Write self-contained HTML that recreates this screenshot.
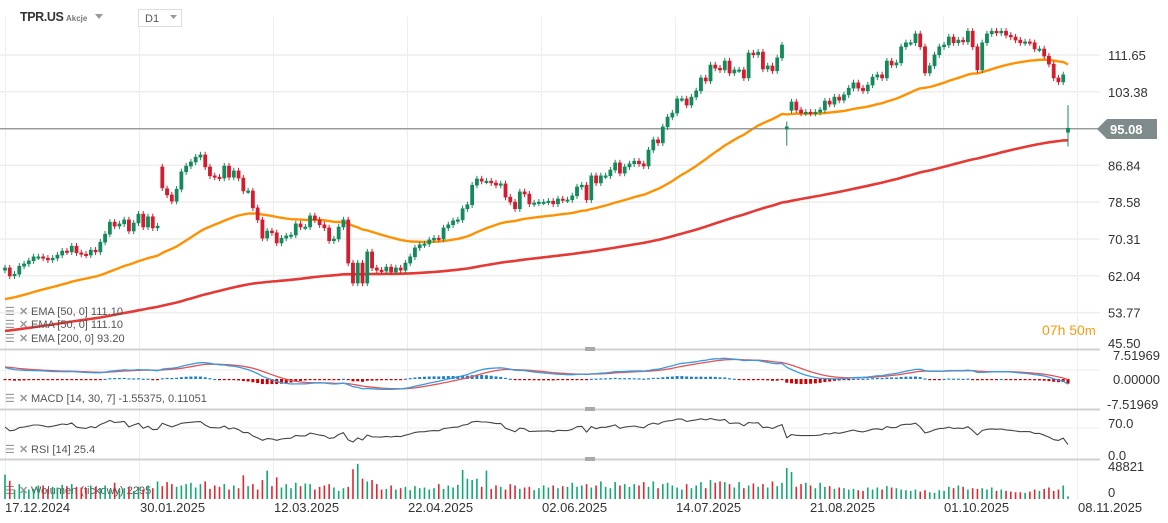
<!DOCTYPE html>
<html><head><meta charset="utf-8"><style>
html,body{margin:0;padding:0;background:#fff;width:1168px;height:523px;overflow:hidden;font-family:"Liberation Sans",sans-serif}
svg{display:block}
</style></head><body>
<svg id="chart" width="1168" height="523" viewBox="0 0 1168 523" xmlns="http://www.w3.org/2000/svg" font-family="Liberation Sans, sans-serif"></svg>
<script>
const closes=[63.8,62.0,62.4,64.2,64.7,65.4,66.3,66.3,66.0,65.6,66.0,66.7,67.6,67.4,68.7,67.2,66.9,66.7,67.8,67.4,69.6,71.4,74.1,73.2,73.7,74.6,72.1,73.9,75.9,73.0,75.3,72.8,73.2,81.8,80.2,78.8,81.5,85.4,86.7,87.6,88.7,89.2,86.5,84.5,84.2,84.0,86.7,84.2,85.6,84.0,81.1,81.1,77.3,74.6,70.5,72.1,71.7,69.4,
70.5,71.0,71.2,73.7,73.0,73.0,75.5,74.6,73.5,72.8,69.9,70.3,73.0,74.6,64.9,60.4,64.9,60.4,67.4,63.8,63.3,63.1,64.0,62.9,63.8,63.3,64.9,66.3,68.3,69.0,69.2,70.1,70.5,70.3,72.8,73.5,74.4,74.6,77.1,78.0,82.4,83.8,83.3,83.3,82.9,82.4,82.7,79.7,78.6,77.1,80.9,80.4,78.2,78.4,78.6,78.6,
78.8,78.2,79.3,79.1,79.1,80.0,82.0,82.4,79.1,84.5,82.9,84.5,84.5,85.8,87.4,85.1,86.5,87.2,87.8,87.2,86.7,90.3,92.6,91.9,95.5,97.7,98.6,101.8,101.8,100.4,102.2,103.6,106.5,105.8,109.4,108.7,108.3,110.3,107.6,108.3,108.3,106.5,112.1,111.7,112.3,108.5,109.2,108.1,111.0,113.9,
95.5,101.1,99.3,98.6,98.8,98.6,
98.8,99.3,101.3,100.6,102.2,101.5,102.7,104.2,105.4,104.2,103.6,104.9,106.7,107.2,106.5,110.3,109.4,109.9,113.5,114.4,114.4,116.4,113.5,107.6,109.2,111.7,113.5,113.9,115.7,114.4,115.0,114.6,117.0,113.5,108.3,114.4,116.4,117.0,116.6,117.0,116.1,115.7,115.0,114.4,114.6,114.4,113.0,113.0,111.4,109.6,106.5,105.6,107.2,95.2];
// opens that differ from previous close (gaps): [index, open]
const gapOpens=[[33,86.5],[34,81.6],[164,95.0],[165,99.2],[223,94.3]];
const volumes=[36,27,14,22,12,14,15,20,20,15,18,17,21,19,22,18,17,15,20,18,16,20,14,24,15,16,17,12,18,14,20,16,26,19,25,22,18,20,22,24,17,22,26,15,20,18,22,14,20,16,35,19,22,14,28,42,19,32,17,22,16,24,19,23,22,14,18,20,22,17,12,16,18,44,52,30,26,28,22,14,15,20,14,16,18,13,19,16,17,14,16,22,15,20,17,21,43,30,28,30,18,42,15,20,18,14,22,20,15,17,18,13,16,20,17,20,16,19,18,24,18,20,22,17,20,26,18,16,25,20,22,18,22,20,25,18,26,16,22,24,20,17,14,22,16,20,25,16,28,24,26,25,22,17,25,16,20,23,18,22,17,26,19,24,46,40,18,22,24,20,16,24,18,19,15,17,16,14,15,13,12,17,14,17,14,19,17,16,14,13,12,14,11,13,10,9,13,12,18,16,20,18,14,16,15,16,14,17,12,14,12,11,10,10,9,11,14,12,15,17,12,14,20,4];
const priceTicks=["111.65","103.38","95.08","86.84","78.58","70.31","62.04","53.77","45.50"];
const dateLabels=["17.12.2024","30.01.2025","12.03.2025","22.04.2025","02.06.2025","14.07.2025","21.08.2025","01.10.2025","08.11.2025"];
const lastPrice=95.08;
const ema50Seed=56.5, ema200Seed=49.5;

const NS="http://www.w3.org/2000/svg";
const svg=document.getElementById('chart');
function mk(tag,attrs,parent){const e=document.createElementNS(NS,tag);for(const k in attrs)e.setAttribute(k,attrs[k]);(parent||svg).appendChild(e);return e;}
const n=closes.length;
const X0=5,X1=1068;
const step=(X1-X0)/(n-1);
const xAt=i=>X0+i*step;
const yP=p=>55+(111.65-p)*4.45;
const yM=v=>379-v*3.06;
const yR=v=>455-v*0.443;
const yV=v=>499-v*(33/48.821);
const gapMap={};gapOpens.forEach(g=>gapMap[g[0]]=g[1]);
const openAt=i=>(i in gapMap)?gapMap[i]:(i?closes[i-1]:closes[0]-0.5);

// grid
const gx=[5,139,273,407,541,675,809,943,1077];
for(const x of gx){const l=mk('line',{x1:x+.5,y1:17,x2:x+.5,y2:499,stroke:'#eeeeee','stroke-width':1});

}
priceTicks.forEach(t=>{const y=yP(parseFloat(t));
 if(y<345){const l=mk('line',{x1:0,y1:y,x2:1100,y2:y,stroke:'#eeeeee','stroke-width':1.5});
 
 }
 const tx=mk('text',{x:1108,y:t==="45.50"?348:y+5,'font-size':13,fill:'#333'});tx.textContent=t;
 
 
});
[370,428].forEach(y=>{const l=mk('line',{x1:0,y1:y,x2:1100,y2:y,stroke:'#eeeeee'});});
[349.5,409.5,459.5].forEach(y=>{const l=mk('line',{x1:0,y1:y,x2:1100,y2:y,stroke:'#d0d0d0','stroke-width':2});


const h=mk('rect',{x:585,y:y-2.5,width:10,height:4,fill:'#aaa'});

});

// header
const hdr=mk('g',{});
const sym=mk('text',{x:20,y:21,'font-size':12.5,'font-weight':'bold',fill:'#333','letter-spacing':'-0.4'},hdr);sym.textContent='TPR.US';

const ak=mk('text',{x:66,y:21,'font-size':8,'font-weight':'bold',fill:'#777'},hdr);ak.textContent='Akcje';

const tri=mk('path',{d:'M95 14 L103 14 L99 19 Z',fill:'#999'},hdr);
const tf=mk('rect',{x:138.5,y:9.5,width:43,height:17,fill:'#fff',stroke:'#ddd'},hdr);
const tft=mk('text',{x:145,y:22,'font-size':11,fill:'#555'},hdr);tft.textContent='D1';
const tf2=mk('path',{d:'M170 15 L177 15 L173.5 19 Z',fill:'#999'},hdr);

// EMAs
function ema(arr,period,seed){const a=2/(period+1);let e=seed;return arr.map(v=>(e=e+a*(v-e)));}
const e50=ema(closes,50,ema50Seed), e200=ema(closes,200,ema200Seed);
function poly(vals,yf,color,w,name){const pts=vals.map((v,i)=>xAt(i).toFixed(1)+','+yf(v).toFixed(1)).join(' ');
 const p=mk('polyline',{points:pts,fill:'none',stroke:color,'stroke-width':w,'stroke-linejoin':'round'});
 
 return p;}
poly(e200,yP,'#e53935',2.6,'ema-200-line');
poly(e50,yP,'#ff9100',2.4,'ema-50-line');

const lp=mk('line',{x1:0,y1:yP(lastPrice),x2:1100,y2:yP(lastPrice),stroke:'#8a8f8f','stroke-width':1.2});


// candles
const G='#148a5c',R='#d31d2e';
closes.forEach((c,i)=>{const o=openAt(i);const up=c>=o;const col=up?G:R;const x=xAt(i);
 const hi=Math.max(o,c)+0.7+(i===n-1?4.5:0)+(i===164?0.5:0), lo=Math.min(o,c)-0.7-(i===n-1?2.5:0)-(i===164?3:0);
 const w=mk('line',{x1:x,y1:yP(hi),x2:x,y2:yP(lo),stroke:col,'stroke-width':1});
 
 
 const top=yP(Math.max(o,c)),bh=Math.max(1.5,yP(Math.min(o,c))-top);
 const b=mk('rect',{x:x-1.6,y:top,width:3.2,height:bh,fill:col,stroke:col,'stroke-width':0.6});
 
 
});

const tag=mk('path',{d:'M1097 129 L1107 119 L1157 119 L1157 139 L1107 139 Z',fill:'#7f8b8b'});

const tgt=mk('text',{x:1110,y:134,'font-size':13,'font-weight':'bold',fill:'#fff'});tgt.textContent=lastPrice.toFixed(2);

const cd=mk('text',{x:1042,y:335,'font-size':14,fill:'#f39c12'});cd.innerHTML='07h 50<tspan font-size="13">m</tspan>';


function legend(y,txt,name){const g=mk('g',{});
 const ic=mk('text',{x:5,y:y,'font-size':11,fill:'#999'},g);ic.textContent='☰';
 
 const cx=mk('text',{x:19,y:y,'font-size':11,'font-weight':'bold',fill:'#999'},g);cx.textContent='✕';
 
 const t=mk('text',{x:31,y:y,'font-size':11,fill:'#555'},g);t.textContent=txt;
 }
legend(315,'EMA [50, 0] 111.10','ema-50-legend');
legend(328,'EMA [50, 0] 111.10','ema-50-legend-duplicate');
legend(342,'EMA [200, 0] 93.20','ema-200-legend');
legend(402,'MACD [14, 30, 7] -1.55375,  0.11051','macd-legend');
legend(453,'RSI [14] 25.4','rsi-legend');
legend(494,'Wolumen (tickowy) 2295','volume-legend');

// MACD
let a14=closes[0],a30=closes[0]-4;const k14=2/15,k30=2/31,k7=2/8;
const macd=[],sig=[];let s=4;
closes.forEach(c=>{a14+=k14*(c-a14);a30+=k30*(c-a30);const m=a14-a30;s+=k7*(m-s);macd.push(m);sig.push(s);});
macd.forEach((m,i)=>{const h=m-sig[i];const y0=379,y1=yM(h);
 const r=mk('rect',{x:xAt(i)-1.5,y:Math.min(y0,y1),width:3,height:Math.max(1.2,Math.abs(y1-y0)),fill:h>=0?'#1e7fd0':'#cc0000'});
 
 });
poly(sig,yM,'#e05555',1.3,'macd-signal-line');
poly(macd,yM,'#3a9ae0',1.3,'macd-line');
[['7.51969',360],['0.00000',384],['-7.51969',409]].forEach(a=>{const t=mk('text',{x:a[0][0]==='-'?1107:1113,y:a[1],'font-size':13,fill:'#333'});t.textContent=a[0];
 });

// RSI
let ag=0.6,al=0.35;const rsi=[];
closes.forEach((c,i)=>{const d=i?c-closes[i-1]:0;ag=(ag*13+Math.max(d,0))/14;al=(al*13+Math.max(-d,0))/14;rsi.push(100-100/(1+ag/al));});
poly(rsi,yR,'#444',1.1,'rsi-line');
[['70.0',428],['0.0',460]].forEach(a=>{const t=mk('text',{x:1108,y:a[1],'font-size':13,fill:'#333'});t.textContent=a[0];
 });

// volume
volumes.forEach((v,i)=>{const col=closes[i]>=openAt(i)?'#12a872':'#e0262f';
 const r=mk('rect',{x:xAt(i)-0.8,y:yV(v),width:1.6,height:499-yV(v),fill:col});
 
 });
[['48821',471],['0',497]].forEach(a=>{const t=mk('text',{x:1108,y:a[1],'font-size':13,fill:'#333'});t.textContent=a[0];
 });

dateLabels.forEach((d,i)=>{const t=mk('text',{x:gx[i]+(i===0?0:1),y:512,'font-size':13,fill:'#333'});t.textContent=d;
 });
</script>
</body></html>
